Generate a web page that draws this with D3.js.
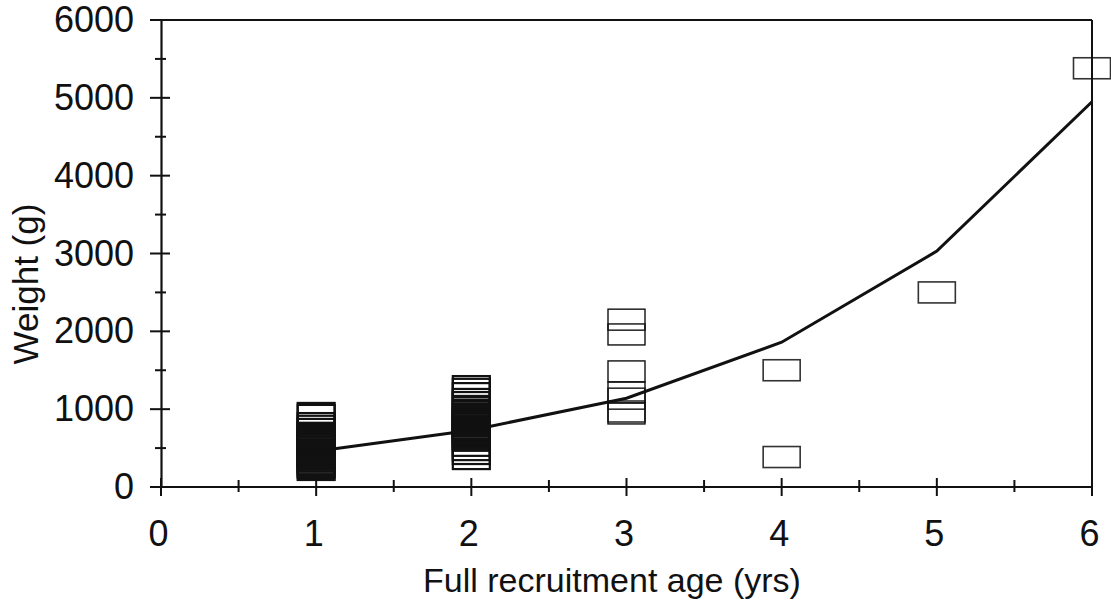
<!DOCTYPE html>
<html><head><meta charset="utf-8">
<script src="https://cdn.jsdelivr.net/npm/d3@7"></script>
<style>html,body{margin:0;padding:0;background:#fff;}svg{display:block;}</style>
</head><body>
<svg id="chart" width="1111" height="602"></svg>
<script>
// ---- data ----
const xTicks = [0, 1, 2, 3, 4, 5, 6];
const yTicks = [0, 1000, 2000, 3000, 4000, 5000, 6000];
const xMinorTicks = [0.5, 1.5, 2.5, 3.5, 4.5, 5.5];
const yMinorTicks = [500, 1500, 2500, 3500, 4500, 5500];
// growth curve (line)
const curveAge = [1, 2, 3, 4, 5, 6];
const curveWeight = [460, 730, 1140, 1860, 3030, 4950];
// observed weights at full recruitment age (box markers)
const obsAge1 = [945, 920, 815, 780, 740, 690, 660, 635, 610, 585, 560, 535, 510, 480, 455, 430, 405, 380, 355, 330, 300, 275, 250, 225];
const obsAge2 = [1290, 1255, 1200, 1125, 1085, 1035, 985, 960, 930, 905, 880, 855, 830, 805, 780, 750, 725, 700, 675, 650, 625, 600, 535, 480, 430, 365];
const obsAge3 = [2150, 1960, 1485, 1215, 1135, 970, 945];
const obsAge4 = [1500, 385];
const obsAge5 = [2500];
const obsAge6 = [5380];
const xLabel = "Full recruitment age (yrs)";
const yLabel = "Weight (g)";

// ---- build ----
const svg = d3.select("#chart");
const x = d3.scaleLinear().domain([0, 6]).range([161, 1092]);
const y = d3.scaleLinear().domain([0, 6000]).range([487, 20]);
const ink = "#111";
const font = "'Liberation Sans', Arial, sans-serif";

const points = [];
[[1, obsAge1], [2, obsAge2], [3, obsAge3], [4, obsAge4], [5, obsAge5], [6, obsAge6]].forEach(([a, arr]) => {
  arr.forEach(v => points.push({age: a, w: v}));
});

// curve (drawn under the markers)
const line = d3.line().x(d => x(d[0])).y(d => y(d[1]));
svg.append("path")
  .datum(curveAge.map((a, i) => [a, curveWeight[i]]))
  .attr("d", line)
  .attr("fill", "none").attr("stroke", ink).attr("stroke-width", 3);

// markers
const mw = 37, mh = 21;
svg.append("g").selectAll("rect").data(points).join("rect")
  .attr("x", d => x(d.age) - mw / 2)
  .attr("y", d => y(d.w) - mh / 2)
  .attr("width", mw).attr("height", mh)
  .attr("fill", "none")
  .attr("stroke", d => d.age >= 4 ? "#333" : ink)
  .attr("stroke-width", d => d.age <= 2 ? 2.2 : (d.age >= 4 ? 1.6 : 1.4));

// frame: top and right
svg.append("line").attr("x1", 150).attr("x2", x(6)).attr("y1", y(6000)).attr("y2", y(6000))
  .attr("stroke", ink).attr("stroke-width", 2);
svg.append("line").attr("x1", x(6)).attr("x2", x(6)).attr("y1", y(6000)).attr("y2", y(0))
  .attr("stroke", ink).attr("stroke-width", 2);

// y axis
const yAxis = d3.axisLeft(y).tickValues(yTicks).tickSize(0).tickPadding(27).tickFormat(d3.format("d"));
const gy = svg.append("g").attr("transform", `translate(${x(0)},0)`).call(yAxis);
gy.select(".domain").attr("stroke", ink).attr("stroke-width", 2.2);
gy.selectAll("text").attr("font-family", font).attr("font-size", 36).attr("fill", ink);
svg.append("g").selectAll("line").data(yTicks).join("line")
  .attr("x1", x(0) - 11).attr("x2", x(0) + 9).attr("y1", d => y(d)).attr("y2", d => y(d))
  .attr("stroke", ink).attr("stroke-width", 2);
svg.append("g").selectAll("line").data(yMinorTicks).join("line")
  .attr("x1", x(0) - 6).attr("x2", x(0) + 5).attr("y1", d => y(d)).attr("y2", d => y(d))
  .attr("stroke", ink).attr("stroke-width", 2);

// x axis
const xAxis = d3.axisBottom(x).tickValues(xTicks).tickSize(0).tickPadding(33).tickFormat(d3.format("d"));
const gx = svg.append("g").attr("transform", `translate(0,${y(0)})`).call(xAxis);
gx.select(".domain").remove();
svg.append("line").attr("x1", 152).attr("x2", x(6)).attr("y1", y(0)).attr("y2", y(0))
  .attr("stroke", ink).attr("stroke-width", 2.2);
gx.selectAll("text").attr("font-family", font).attr("font-size", 36).attr("fill", ink).attr("dx", -3);
svg.append("g").selectAll("line").data(xTicks).join("line")
  .attr("x1", d => x(d)).attr("x2", d => x(d)).attr("y1", y(0) - 9).attr("y2", y(0) + 9)
  .attr("stroke", ink).attr("stroke-width", 2);
svg.append("g").selectAll("line").data(xMinorTicks).join("line")
  .attr("x1", d => x(d)).attr("x2", d => x(d)).attr("y1", y(0) - 7).attr("y2", y(0) + 5)
  .attr("stroke", ink).attr("stroke-width", 2);

// titles
svg.append("text").attr("x", 612).attr("y", 592).attr("text-anchor", "middle")
  .attr("font-family", font).attr("font-size", 34).attr("fill", ink).text(xLabel);
svg.append("text").attr("transform", "translate(38,284) rotate(-90)").attr("text-anchor", "middle")
  .attr("font-family", font).attr("font-size", 35).attr("fill", ink).text(yLabel);
</script>
</body></html>
